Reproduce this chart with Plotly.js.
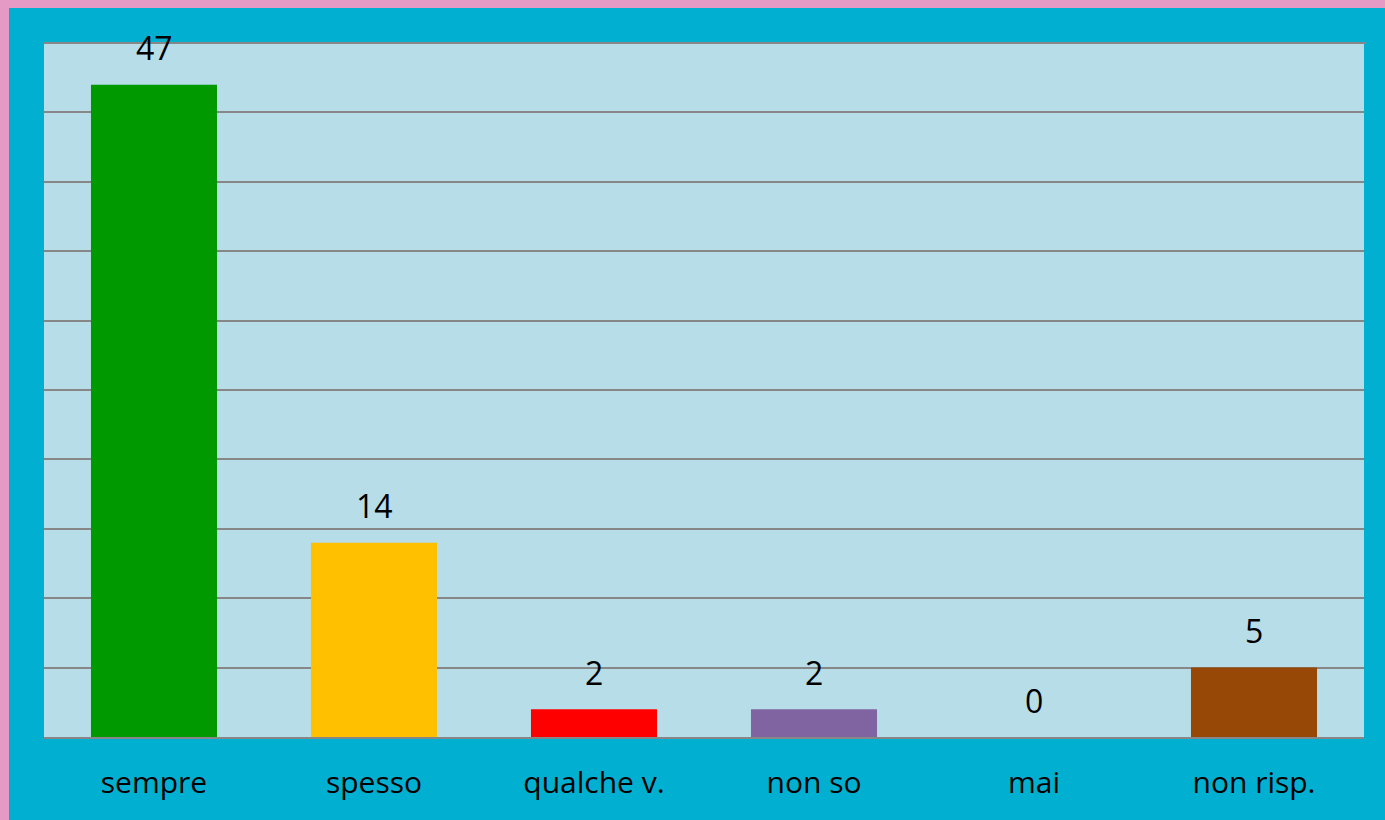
<!DOCTYPE html>
<html>
<head>
<meta charset="utf-8">
<script src="https://cdn.plot.ly/plotly-3.0.1.min.js"></script>
<style>html,body{margin:0;padding:0;background:#01AFD1;}#chart{width:1385px;height:820px;}</style>
</head>
<body>
<div id="chart"></div>
<script>
const categories = ["sempre", "spesso", "qualche v.", "non so", "mai", "non risp."];
const values = [47, 14, 2, 2, 0, 5];
const barColors = ["#009900", "#FFC000", "#FF0000", "#8064A2", "#FFFFFF", "#974706"];

const W = 1385, H = 820, ml = 44, mr = 21, mt = 43, mb = 83;
const pw = W - ml - mr, ph = H - mt - mb;
const FONT = "Open Sans, sans-serif";

const trace = {
  type: "bar",
  x: categories,
  y: values,
  marker: {color: barColors, line: {width: 0}},
  width: 0.573,
  hoverinfo: "x+y"
};

const annotations = categories.map((c, i) => ({
  x: c, y: values[i], xref: "x", yref: "y",
  text: String(values[i]), showarrow: false,
  yanchor: "middle", yshift: 37,
  font: {family: FONT, size: 32, color: "#000000"}
}));

const pink = "#E59AC5";
const shapes = [
  {type: "rect", xref: "paper", yref: "paper", layer: "below",
   x0: -ml / pw, x1: (9 - ml) / pw, y0: -mb / ph, y1: 1 + mt / ph,
   fillcolor: pink, line: {width: 0}},
  {type: "rect", xref: "paper", yref: "paper", layer: "below",
   x0: -ml / pw, x1: 1 + mr / pw, y0: 1 + (mt - 8) / ph, y1: 1 + mt / ph,
   fillcolor: pink, line: {width: 0}},
  {type: "line", xref: "paper", yref: "paper", layer: "below",
   x0: 0, x1: 1 + 2 / pw, y0: 1, y1: 1,
   line: {color: "#878787", width: 2}}
];

const layout = {
  width: W, height: H,
  margin: {l: ml, r: mr, t: mt, b: mb, pad: 0},
  paper_bgcolor: "#01AFD1",
  plot_bgcolor: "#B7DDE8",
  showlegend: false,
  font: {family: FONT, size: 30, color: "#000000"},
  xaxis: {
    type: "category",
    showline: true, linecolor: "#878787", linewidth: 2,
    showgrid: false, zeroline: false,
    ticks: "outside", ticklen: 18, tickcolor: "rgba(0,0,0,0)",
    tickfont: {family: FONT, size: 30, color: "#000000"}
  },
  yaxis: {
    range: [0, 50], dtick: 5, tick0: 0,
    showgrid: true, gridcolor: "#878787", gridwidth: 2,
    zeroline: false, showticklabels: false, ticks: ""
  },
  annotations: annotations,
  shapes: shapes
};

Plotly.newPlot("chart", [trace], layout, {displayModeBar: false, staticPlot: true});
</script>
</body>
</html>
